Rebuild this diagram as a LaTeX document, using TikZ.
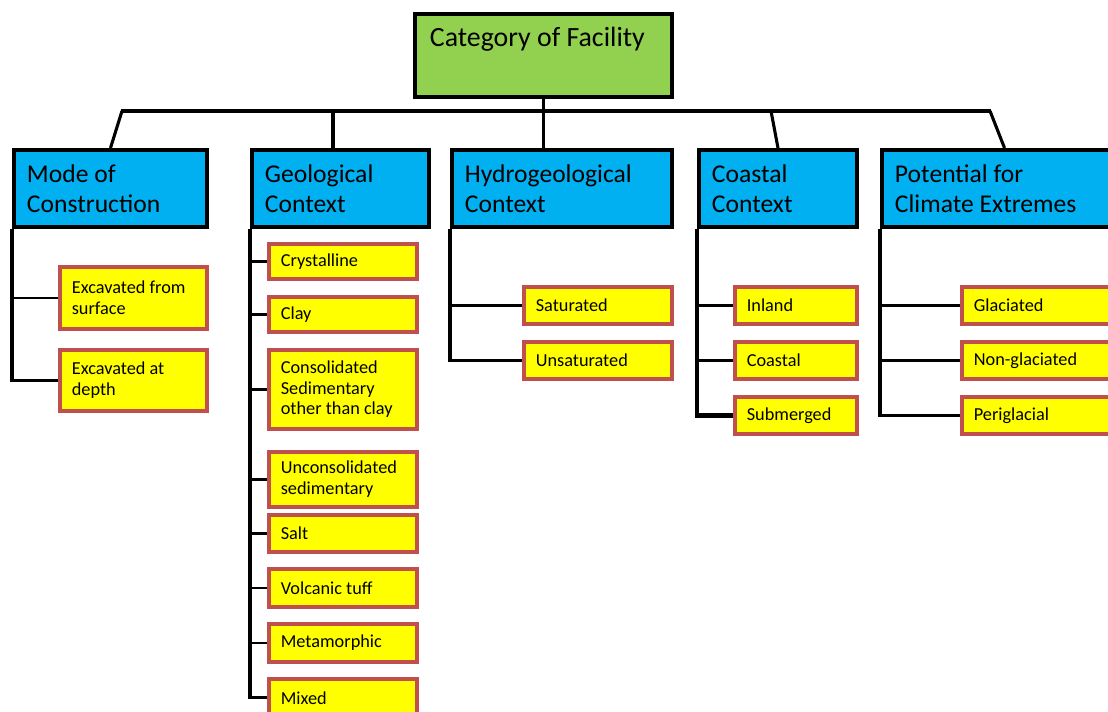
\documentclass[tikz,border=0pt]{standalone}
\usepackage{fontspec}
\setmainfont{Carlito}
\usetikzlibrary{calc}
\definecolor{topgreen}{HTML}{92D050}
\definecolor{headblue}{HTML}{00B0F0}
\definecolor{leafyellow}{HTML}{FFFF00}
\definecolor{leafred}{HTML}{C0504D}
\tikzset{
  topbox/.style={draw=black,line width=2.8pt,fill=topgreen,anchor=north west,align=flush left,inner xsep=0.375cm,inner ysep=0pt,font=\fontsize{19.8}{22}\selectfont},
  headbox/.style={draw=black,line width=2.8pt,fill=headblue,anchor=north west,align=flush left,inner xsep=0.325cm,minimum height=1.925cm,font=\fontsize{18.2}{21.3}\selectfont},
  leaf/.style={draw=leafred,line width=2.6pt,fill=leafyellow,anchor=north west,align=flush left,inner xsep=0.3cm,font=\fontsize{13}{14.6}\selectfont},
  bus/.style={line width=3.4pt},
  trunk/.style={line width=2.2pt},
  twig/.style={line width=1.8pt}
}

\begin{document}
\begin{tikzpicture}[x=0.025cm,y=-0.025cm]
\useasboundingbox (0,0) rectangle (1108,711);
% root and the five categories
\node[topbox,text width=5.675cm,text height=0.825cm,text depth=1.25cm] (cat) at (413,12) {Category of Facility};
\node[headbox,text width=4.175cm] (mode) at (12,148) {Mode of\\Construction};
\node[headbox,text width=3.775cm] (geo) at (250,148) {Geological\\Context};
\node[headbox,text width=4.85cm] (hyd) at (450,148) {Hydrogeological\\Context};
\node[headbox,text width=3.3cm] (coast) at (697,148) {Coastal\\Context};
\node[headbox,text width=5.475cm] (clim) at (880,148) {Potential for\\Climate Extremes};
% options
\node[leaf,text width=3.075cm,minimum height=1.55cm] (surf) at (58,265) {Excavated from\\surface};
\node[leaf,text width=3.075cm,minimum height=1.525cm] (depth) at (58,348) {Excavated at\\depth};
\node[leaf,text width=3.1cm,minimum height=0.875cm] (cryst) at (267,242) {Crystalline};
\node[leaf,text width=3.1cm,minimum height=0.875cm] (clay) at (267,295) {Clay};
\node[leaf,text width=3.1cm,minimum height=1.975cm] (consol) at (267,348) {Consolidated\\Sedimentary\\other than clay};
\node[leaf,text width=3.1cm,minimum height=1.375cm] (uncons) at (267,450) {Unconsolidated\\sedimentary};
\node[leaf,text width=3.1cm,minimum height=0.925cm] (salt) at (267,513) {Salt};
\node[leaf,text width=3.1cm,minimum height=0.95cm] (tuff) at (267,567) {Volcanic tuff};
\node[leaf,text width=3.1cm,minimum height=0.95cm] (meta) at (267,622) {Metamorphic};
\node[leaf,text width=3.1cm,minimum height=0.95cm] (mixed) at (267,677) {Mixed};
\node[leaf,text width=3.1cm,minimum height=0.925cm] (sat) at (522,285) {Saturated};
\node[leaf,text width=3.1cm,minimum height=0.925cm] (unsat) at (522,340) {Unsaturated};
\node[leaf,text width=2.45cm,minimum height=0.925cm] (inland) at (733,285) {Inland};
\node[leaf,text width=2.45cm,minimum height=0.925cm] (coastal) at (733,340) {Coastal};
\node[leaf,text width=2.45cm,minimum height=0.925cm] (subm) at (733,395) {Submerged};
\node[leaf,text width=3.4cm,minimum height=0.925cm] (glac) at (960,285) {Glaciated};
\node[leaf,text width=3.4cm,minimum height=0.925cm] (nonglac) at (960,340) {Non-glaciated};
\node[leaf,text width=3.4cm,minimum height=0.925cm] (perigl) at (960,395) {Periglacial};
% bus
\coordinate (busL) at (122,111);
\coordinate (busR) at (990,111);
\coordinate (jGeo) at (333,111);
\coordinate (jCoast) at (771,111);
\draw[bus] ([xshift=-1pt]busL) -- ([xshift=1pt]busR);
\draw[trunk] (busL) -- (mode.north);
\draw[trunk] (busR) -- (clim.north);
\draw[trunk] (cat.south) -- (cat.south |- hyd.north);
\draw[bus] (jGeo) -- (jGeo |- geo.north);
\draw[trunk] (jCoast) -- (coast.north);
% trunks and twigs
\draw[trunk] (mode.south west) |- (depth.west);
\draw[twig] (mode.south west |- surf.west) -- (surf.west);
\draw[trunk] (geo.south west) |- (mixed.west);
\foreach \n in {cryst,clay,consol,uncons,salt,tuff,meta}
  \draw[twig] (geo.south west |- \n.west) -- (\n.west);
\draw[trunk] (hyd.south west) |- (unsat.west);
\draw[twig] (hyd.south west |- sat.west) -- (sat.west);
\draw[bus] (coast.south west) |- (subm.west);
\foreach \n in {inland,coastal}
  \draw[twig] (coast.south west |- \n.west) -- (\n.west);
\draw[trunk] (clim.south west) |- (perigl.west);
\foreach \n in {glac,nonglac}
  \draw[twig] (clim.south west |- \n.west) -- (\n.west);
\end{tikzpicture}
\end{document}
